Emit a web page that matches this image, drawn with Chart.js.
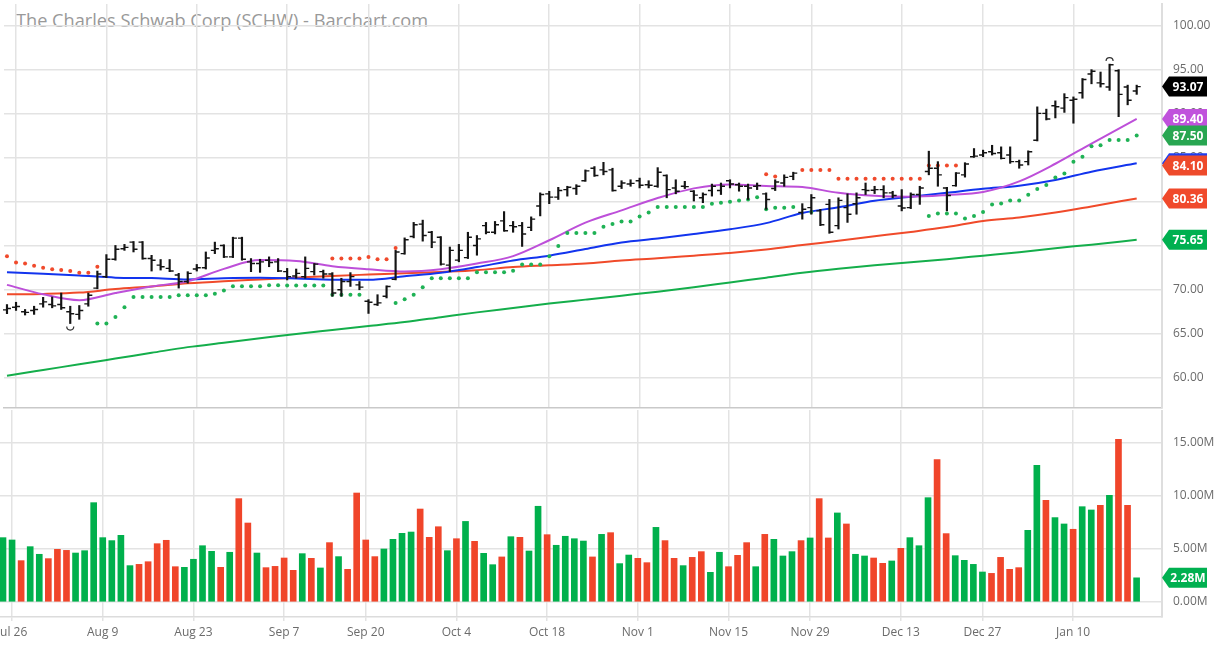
<!DOCTYPE html>
<html>
<head>
<meta charset="utf-8">
<script src="https://cdn.jsdelivr.net/npm/chart.js@4.4.1/dist/chart.umd.min.js"></script>
<style>
  html, body { margin: 0; padding: 0; background: #fff; overflow: hidden; }
  #wrap { position: relative; width: 1219px; height: 645px; font-family: "Open Sans", sans-serif; }
  #title { position: absolute; left: 16px; top: 8px; font-size: 18.2px; color: #999; white-space: nowrap; z-index: 0; }
  #price { position: absolute; left: 0; top: 0; z-index: 1; }
  #vol { position: absolute; left: 0; top: 410px; z-index: 2; }
</style>
</head>
<body>
<div id="wrap">
  <div id="title">The Charles Schwab Corp (SCHW) - Barchart.com</div>
  <canvas id="price" width="1219" height="412"></canvas>
  <canvas id="vol" width="1219" height="235"></canvas>
</div>
<script>
// ---- data (trading days Jul 23 2021 .. Jan 20 2022, index 0..125) ----
const tickIdx = [1, 11, 21, 31, 40, 50, 60, 70, 80, 89, 99, 108, 118];
const tickLabels = ['Jul 26', 'Aug 9', 'Aug 23', 'Sep 7', 'Sep 20', 'Oct 4', 'Oct 18', 'Nov 1', 'Nov 15', 'Nov 29', 'Dec 13', 'Dec 27', 'Jan 10'];
const priceTicks = [60, 65, 70, 75, 80, 85, 90, 95, 100];
const volTicks = [0, 5, 10, 15];

const open = [
  67.69, 67.99, 67.47, 67.62, 68.37, 68.29, 68.29, 67.47, 67.17, 68.37,
  70.16, 71.47, 73.44, 74.64, 75.39, 75.39, 73.52, 72.77, 72.40, 71.65,
  70.91, 72.33, 72.47, 74.45, 75.01, 73.71, 75.84, 73.14, 72.96, 73.33,
  73.14, 72.03, 71.54, 71.47, 72.03, 72.03, 71.77, 69.97, 70.91, 70.53,
  68.67, 68.29, 69.23, 71.17, 74.08, 76.02, 77.44, 76.51, 75.95, 72.77,
  73.34, 73.63, 75.01, 77.26, 76.51, 77.81, 77.26, 77.26, 77.07, 79.50,
  80.88, 80.50, 81.36, 81.48, 82.37, 83.79, 83.60, 83.60, 81.74, 82.00,
  82.37, 81.92, 81.74, 82.97, 81.55, 81.74, 81.18, 80.43, 81.25, 81.25,
  82.37, 81.92, 81.74, 81.74, 80.88, 81.48, 82.11, 82.86, 78.75, 79.31,
  78.94, 79.68, 77.26, 79.31, 79.76, 81.36, 81.29, 81.36, 80.99, 79.50,
  79.31, 80.80, 83.42, 83.79, 81.55, 81.81, 83.04, 85.10, 85.29, 85.66,
  85.55, 85.29, 84.54, 84.54, 86.97, 90.03, 90.89, 90.63, 91.52, 92.38,
  94.51, 93.50, 93.02, 94.88, 93.02, 92.57
];
const high = [
  68.29, 68.55, 67.73, 68.10, 69.11, 69.15, 69.60, 68.10, 68.18, 69.60,
  72.10, 73.97, 75.01, 75.13, 75.46, 75.46, 73.89, 73.41, 73.41, 71.84,
  72.03, 72.85, 74.27, 75.39, 75.09, 75.95, 75.95, 73.52, 73.44, 73.71,
  73.52, 72.40, 72.33, 73.71, 72.96, 72.21, 71.92, 71.28, 71.92, 70.91,
  68.85, 69.41, 70.42, 74.45, 75.87, 77.63, 77.89, 76.62, 76.02, 74.83,
  75.13, 76.51, 76.14, 77.63, 77.74, 78.86, 77.74, 77.63, 78.26, 80.99,
  81.17, 81.62, 81.74, 81.92, 83.60, 83.98, 84.46, 83.79, 82.37, 82.48,
  82.67, 82.37, 83.86, 83.04, 82.48, 82.30, 81.25, 80.99, 81.99, 82.11,
  82.48, 82.11, 81.99, 82.11, 80.99, 82.48, 83.04, 83.34, 79.76, 80.80,
  79.12, 80.24, 80.43, 80.88, 80.99, 82.11, 81.74, 81.81, 81.17, 81.36,
  80.99, 81.74, 85.73, 84.54, 81.62, 83.30, 84.42, 86.03, 85.85, 86.40,
  86.22, 86.22, 84.72, 85.77, 90.77, 90.51, 91.45, 92.27, 91.90, 93.99,
  95.00, 94.73, 95.63, 95.00, 93.24, 93.24
];
const low = [
  67.25, 67.62, 67.10, 67.17, 67.99, 67.92, 67.73, 66.13, 66.61, 68.10,
  70.08, 71.35, 73.33, 74.45, 74.27, 73.44, 72.10, 72.21, 72.03, 70.16,
  70.72, 72.10, 72.33, 74.08, 73.63, 73.63, 73.33, 72.03, 71.95, 72.59,
  72.03, 71.09, 71.28, 71.28, 71.65, 71.28, 69.23, 69.23, 70.35, 69.97,
  67.28, 68.18, 69.04, 71.09, 74.01, 75.87, 75.50, 74.75, 72.77, 72.03,
  73.15, 73.52, 73.90, 76.32, 76.32, 76.62, 76.51, 74.90, 76.69, 78.37,
  79.76, 80.24, 80.62, 80.80, 82.30, 82.86, 83.04, 81.18, 81.48, 81.74,
  81.55, 81.55, 81.62, 80.43, 80.88, 81.48, 80.06, 79.87, 80.62, 80.80,
  81.55, 81.18, 80.24, 81.36, 79.12, 81.25, 81.74, 82.48, 78.00, 78.56,
  77.26, 76.39, 76.88, 77.63, 78.56, 80.80, 80.91, 80.43, 80.43, 78.94,
  79.20, 79.68, 83.04, 81.74, 78.94, 81.74, 82.78, 85.02, 85.10, 85.29,
  84.84, 84.35, 83.79, 84.16, 86.89, 89.28, 89.51, 90.14, 88.91, 91.75,
  93.39, 93.02, 92.64, 89.65, 91.00, 92.19
];
const close = [
  67.84, 68.07, 67.40, 67.73, 68.59, 68.14, 67.92, 67.25, 67.62, 69.34,
  71.77, 73.44, 74.57, 74.79, 74.57, 73.52, 73.33, 72.59, 72.10, 70.91,
  71.84, 72.47, 73.59, 74.64, 73.71, 75.84, 73.44, 72.96, 73.14, 73.07,
  72.10, 71.47, 71.84, 72.40, 72.89, 71.77, 69.60, 70.91, 71.47, 70.27,
  68.55, 68.48, 70.35, 74.27, 75.65, 77.37, 76.14, 75.39, 72.89, 74.45,
  74.45, 75.95, 75.76, 76.51, 77.37, 76.69, 77.14, 76.32, 78.00, 80.80,
  80.50, 81.25, 81.62, 81.74, 83.49, 82.97, 83.42, 81.25, 82.11, 82.07,
  81.85, 81.85, 83.34, 81.36, 81.18, 81.70, 80.73, 80.80, 81.74, 81.74,
  82.00, 81.74, 81.55, 81.81, 80.24, 82.22, 82.75, 83.23, 79.12, 80.43,
  77.37, 76.51, 80.13, 78.56, 80.43, 81.25, 81.36, 80.99, 80.69, 79.27,
  80.80, 81.55, 83.79, 83.04, 80.69, 83.23, 84.27, 85.17, 85.55, 85.47,
  84.91, 84.54, 84.16, 85.66, 90.03, 89.39, 90.78, 91.82, 91.63, 93.88,
  94.81, 93.39, 95.56, 92.19, 91.52, 93.07
];

// volume in millions, 1 = up day, 0 = down day
const volume = [
  6.07, 5.85, 3.90, 5.22, 4.50, 4.09, 4.97, 4.87, 4.62, 4.84,
  9.37, 6.07, 5.79, 6.29, 3.43, 3.55, 3.80, 5.50, 5.82, 3.33,
  3.27, 4.03, 5.31, 4.78, 3.27, 4.69, 9.75, 7.45, 4.62, 3.24,
  3.36, 4.15, 2.99, 4.56, 4.12, 3.21, 5.60, 4.28, 3.08, 10.28,
  5.85, 4.28, 5.00, 5.91, 6.48, 6.60, 8.77, 6.10, 7.10, 4.84,
  5.97, 7.60, 5.72, 4.59, 3.52, 4.25, 6.16, 6.10, 4.81, 9.03,
  6.35, 5.35, 6.20, 5.97, 5.75, 4.25, 6.38, 6.54, 3.62, 4.43,
  4.12, 3.71, 7.04, 5.79, 4.12, 3.43, 4.21, 4.75, 2.80, 4.69,
  3.33, 4.40, 5.60, 3.33, 6.38, 5.91, 4.34, 4.75, 5.79, 6.04,
  9.75, 6.04, 8.40, 7.36, 4.50, 4.34, 4.15, 3.65, 3.87, 5.06,
  6.07, 5.31, 9.84, 13.43, 6.45, 4.37, 3.93, 3.55, 2.83, 2.70,
  4.21, 3.08, 3.24, 6.76, 12.89, 9.59, 7.96, 7.36, 6.86, 8.99,
  8.68, 9.12, 10.06, 15.35, 9.12, 2.28
];
const volUp = [
  1, 1, 0, 1, 1, 0, 0, 0, 1, 1,
  1, 1, 1, 1, 1, 0, 0, 0, 0, 0,
  1, 1, 1, 1, 0, 1, 0, 0, 1, 0,
  0, 0, 0, 1, 0, 1, 0, 1, 0, 0,
  0, 0, 1, 1, 1, 1, 0, 0, 0, 1,
  0, 1, 0, 1, 1, 0, 1, 0, 1, 1,
  0, 1, 1, 1, 1, 0, 1, 0, 1, 1,
  0, 0, 1, 0, 0, 1, 0, 0, 1, 1,
  0, 0, 0, 1, 0, 1, 1, 1, 0, 1,
  0, 0, 1, 0, 1, 1, 0, 0, 1, 0,
  1, 1, 1, 0, 0, 1, 1, 1, 1, 0,
  0, 0, 0, 1, 1, 0, 1, 1, 0, 1,
  1, 0, 1, 0, 0, 1
];

// parabolic SAR dots: above price (red) and below price (green)
const N = null;
const sarAbove = [
  73.78, 73.07, 72.96, 72.70, 72.47, 72.29, 72.21, 72.10, 71.91, 71.91,
  72.59, N, N, N, N, N, N, N, N, N,
  N, N, N, N, N, N, N, N, N, N,
  N, N, N, N, N, N, 73.52, 73.52, 73.52, 73.52,
  73.71, 73.45, 73.45, 74.72, N, N, N, N, N, N,
  N, N, N, N, N, N, N, N, N, N,
  N, N, N, N, N, N, N, N, N, N,
  N, N, N, N, N, N, N, N, N, N,
  N, N, N, N, 83.12, 82.86, N, N, 83.60, 83.60,
  83.60, 83.60, 82.60, 82.60, 82.60, 82.60, 82.60, 82.60, 82.60, 82.60,
  82.60, 82.60, 84.09, 84.09, 84.09, 84.09, N, N, N, N,
  N, N, N, N, N, N, N, N, N, N,
  N, N, N, N, N, N
];
const sarBelow = [
  N, N, N, N, N, N, N, N, N, N,
  66.13, 66.13, 66.87, 67.99, 69.15, 69.15, 69.15, 69.15, 69.15, 69.34,
  69.34, 69.34, 69.34, 69.52, 69.90, 70.38, 70.38, 70.38, 70.38, 70.49,
  70.49, 70.47, 70.47, 70.47, 70.47, 70.47, 69.41, 69.41, 69.41, 69.41,
  N, N, N, 68.48, 68.89, 69.41, 70.27, 71.28, 71.28, 71.28,
  71.28, 71.28, 71.95, 71.95, 71.95, 71.95, 72.14, 72.85, 72.85, 72.85,
  73.78, 74.94, 76.43, 76.43, 76.43, 76.43, 77.14, 77.44, 77.74, 77.74,
  78.30, 78.75, 79.38, 79.38, 79.38, 79.38, 79.38, 79.38, 79.76, 79.87,
  79.98, 80.13, 80.24, 80.50, 79.12, 79.31, 79.31, 79.38, N, 78.80,
  N, N, N, N, N, N, N, N, N, N,
  N, N, 78.37, 78.64, 78.64, 78.64, 78.08, 78.37, 78.82, 79.68,
  79.79, 80.13, 80.13, 80.77, 81.44, 81.89, 82.75, 83.19, 84.54, 85.10,
  86.29, 86.40, 87.00, 87.00, 87.00, 87.50
];

// moving averages read at sample days
const maIdx = [0, 4, 8, 12, 16, 20, 24, 28, 32, 36, 40, 44, 48, 52, 56, 60, 64, 68, 72, 76, 80, 84, 88, 92, 96, 100, 104, 108, 112, 116, 120, 125];
const maShort = [70.53, 69.45, 68.78, 69.60, 70.35, 70.95, 72.35, 73.35, 73.25, 72.65, 72.30, 72.05, 72.30, 72.95, 73.80, 75.60, 77.60, 79.00, 80.40, 81.50, 81.95, 81.78, 81.65, 81.00, 80.65, 80.55, 80.75, 81.10, 82.30, 84.30, 86.60, 89.40];
const maMid = [71.95, 71.80, 71.60, 71.35, 71.30, 71.15, 71.28, 71.33, 71.25, 71.12, 71.12, 71.50, 71.90, 72.55, 73.30, 73.85, 74.60, 75.35, 75.80, 76.30, 76.85, 77.55, 78.70, 79.35, 80.10, 80.55, 81.00, 81.45, 81.80, 82.45, 83.40, 84.35];
const maLong = [69.45, 69.50, 69.65, 70.05, 70.35, 70.70, 70.95, 71.15, 71.35, 71.55, 71.70, 71.84, 72.00, 72.20, 72.55, 72.75, 72.95, 73.30, 73.55, 73.85, 74.15, 74.55, 75.05, 75.55, 76.05, 76.55, 77.10, 77.80, 78.20, 78.75, 79.45, 80.36];
const ma200 = [60.20, 60.85, 61.50, 62.15, 62.80, 63.45, 63.95, 64.45, 64.95, 65.40, 65.85, 66.30, 66.85, 67.40, 67.90, 68.40, 68.85, 69.30, 69.75, 70.25, 70.80, 71.35, 71.90, 72.35, 72.75, 73.10, 73.45, 73.85, 74.25, 74.70, 75.10, 75.65];
const extraLevel = 84.10;

// ---- helpers ----
Chart.defaults.font.family = '"Open Sans", sans-serif';
Chart.defaults.font.size = 12;
Chart.defaults.color = '#666';

const GRID = '#e3e3e3';
const last = a => a[a.length - 1];
const maPts = vals => maIdx.map((d, k) => ({ x: d, y: vals[k] }));
const dayPts = vals => vals.map((v, i) => ({ x: i, y: v }));

function drawBadge(ctx, xTip, yc, color, text) {
  const w = 45, h = 20, tip = 7;
  ctx.fillStyle = color;
  ctx.beginPath();
  ctx.moveTo(xTip, yc);
  ctx.lineTo(xTip + tip, yc - h / 2);
  ctx.lineTo(xTip + w, yc - h / 2);
  ctx.lineTo(xTip + w, yc + h / 2);
  ctx.lineTo(xTip + tip, yc + h / 2);
  ctx.closePath();
  ctx.fill();
  ctx.fillStyle = '#fff';
  ctx.font = 'bold 12px "Open Sans", sans-serif';
  ctx.textAlign = 'center';
  ctx.textBaseline = 'middle';
  ctx.fillText(text, xTip + (w + tip) / 2, yc + 1);
}

const xAxisBase = {
  type: 'linear',
  min: -0.33,
  max: 127.8,
  offset: false,
  afterBuildTicks: s => { s.ticks = tickIdx.map(v => ({ value: v })); },
};

// ---- price panel ----
const pricePainter = {
  id: 'pricePainter',
  afterDatasetsDraw(chart) {
    const { ctx, scales: { x, y } } = chart;
    ctx.save();
    ctx.strokeStyle = '#141414';
    ctx.lineWidth = 1.4;
    ctx.beginPath();
    close.forEach((c, i) => {
      const px = x.getPixelForValue(i);
      const yo = y.getPixelForValue(open[i]);
      const yc = y.getPixelForValue(c);
      ctx.moveTo(px - 4, yo); ctx.lineTo(px, yo);
      ctx.moveTo(px, yc); ctx.lineTo(px + 4, yc);
    });
    ctx.stroke();
    // highest high / lowest low markers
    const hi = high.indexOf(Math.max(...high));
    const lo = low.indexOf(Math.min(...low));
    ctx.strokeStyle = '#333';
    ctx.lineWidth = 1.2;
    ctx.beginPath();
    ctx.arc(x.getPixelForValue(hi), y.getPixelForValue(high[hi]) - 3, 3.5, Math.PI, 2 * Math.PI);
    ctx.stroke();
    ctx.beginPath();
    ctx.arc(x.getPixelForValue(lo), y.getPixelForValue(low[lo]) + 3, 3.5, 0, Math.PI);
    ctx.stroke();
    ctx.restore();
  },
  afterDraw(chart) {
    const { ctx, chartArea, scales: { y } } = chart;
    const levels = [
      [last(maMid), '#1e3ef0'],
      [extraLevel, '#ee4a2b'],
      [last(maLong), '#f0492b'],
      [last(ma200), '#00b050'],
      [last(maShort), '#c052dc'],
      [last(sarBelow), '#28a651'],
      [last(close), '#000'],
    ];
    ctx.save();
    levels.forEach(([v, col]) => drawBadge(ctx, chartArea.right, y.getPixelForValue(v), col, v.toFixed(2)));
    ctx.restore();
  }
};

const lineDs = (vals, color, order) => ({
  type: 'line', data: maPts(vals), borderColor: color, borderWidth: 2,
  pointRadius: 0, cubicInterpolationMode: 'monotone', order
});
const dotDs = (vals, color) => ({
  type: 'line', data: dayPts(vals), showLine: false, pointRadius: 2,
  pointBackgroundColor: color, pointBorderWidth: 0, order: 1
});

new Chart(document.getElementById('price'), {
  type: 'bar',
  data: {
    datasets: [
      lineDs(ma200, '#14ae4b', 5),
      lineDs(maLong, '#f04a2a', 4),
      lineDs(maMid, '#1234ee', 3),
      lineDs(maShort, '#bd4fd9', 2),
      dotDs(sarAbove, '#f04a2c'),
      dotDs(sarBelow, '#1fb255'),
      {
        type: 'bar',
        data: close.map((_, i) => ({ x: i, y: [low[i], high[i]] })),
        backgroundColor: '#141414',
        barThickness: 1.5,
        grouped: false,
        order: 0
      }
    ]
  },
  options: {
    responsive: false,
    animation: false,
    layout: { padding: { left: 0, right: 0, top: 0, bottom: 2 } },
    plugins: { legend: { display: false }, tooltip: { enabled: false } },
    scales: {
      x: {
        ...xAxisBase,
        grid: { color: GRID, lineWidth: 1.5, drawTicks: false, offset: false },
        border: { display: true, color: '#c9c9c9', width: 1.5 },
        ticks: { display: false },
        afterFit: s => { s.height = 0; s.paddingLeft = 0; s.paddingRight = 0; }
      },
      y: {
        position: 'right',
        min: 56.527,
        max: 102.465,
        grid: { color: GRID, lineWidth: 1.5, drawTicks: false },
        border: { color: '#dedede', width: 2 },
        ticks: { padding: 11, color: '#6b6b6b', callback: v => v.toFixed(2) },
        afterBuildTicks: s => { s.ticks = priceTicks.map(v => ({ value: v })); },
        afterFit: s => { s.width = 57; s.paddingTop = 0; s.paddingBottom = 0; }
      }
    }
  },
  plugins: [pricePainter]
});

// ---- volume panel ----
const volBadge = {
  id: 'volBadge',
  afterDraw(chart) {
    const { ctx, chartArea, scales: { y } } = chart;
    const v = last(volume);
    ctx.save();
    drawBadge(ctx, chartArea.right, y.getPixelForValue(v), last(volUp) ? '#00b050' : '#f0452a', v.toFixed(2) + 'M');
    ctx.restore();
  }
};

new Chart(document.getElementById('vol'), {
  type: 'bar',
  data: {
    datasets: [{
      data: dayPts(volume),
      backgroundColor: c => volUp[c.dataIndex] ? '#00b04c' : '#f0452a',
      barThickness: 6,
      borderWidth: 0,
      grouped: false
    }]
  },
  options: {
    responsive: false,
    animation: false,
    layout: { padding: 0 },
    plugins: { legend: { display: false }, tooltip: { enabled: false } },
    scales: {
      x: {
        ...xAxisBase,
        grid: { color: GRID, lineWidth: 1.5, drawTicks: true, tickLength: 4, offset: false },
        border: { display: true, color: '#dcdcdc', width: 1.5 },
        ticks: {
          autoSkip: false, maxRotation: 0, padding: 4, color: '#6b6b6b',
          callback: v => tickLabels[tickIdx.indexOf(v)]
        },
        afterFit: s => { s.height = 28; s.paddingLeft = 0; s.paddingRight = 0; }
      },
      y: {
        position: 'right',
        min: -1.415,
        max: 18.11,
        grid: { color: GRID, lineWidth: 1.5, drawTicks: false },
        border: { color: '#dedede', width: 2 },
        ticks: { padding: 11, color: '#6b6b6b', callback: v => v.toFixed(2) + 'M' },
        afterBuildTicks: s => { s.ticks = volTicks.map(v => ({ value: v })); },
        afterFit: s => { s.width = 57; s.paddingTop = 0; s.paddingBottom = 0; }
      }
    }
  },
  plugins: [volBadge]
});
</script>
</body>
</html>
